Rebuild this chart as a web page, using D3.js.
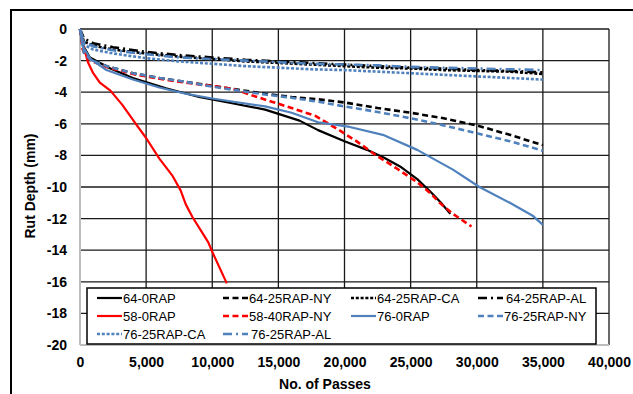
<!DOCTYPE html>
<html><head><meta charset="utf-8">
<script src="https://cdn.jsdelivr.net/npm/d3@7"></script>
<style>body{margin:0;background:#fff}svg{display:block}text{font-family:"Liberation Sans",Arial,sans-serif}</style>
</head><body><svg id="c" width="633" height="394"></svg>
<script>
const seriesNames = ["64-0RAP","64-25RAP-NY","64-25RAP-CA","64-25RAP-AL","58-0RAP","58-40RAP-NY","76-0RAP","76-25RAP-NY","76-25RAP-CA","76-25RAP-AL"];
const s64_0RAP = [[0,0],[200,-1.0],[750,-1.8],[2300,-2.5],[4000,-3.1],[6500,-3.75],[9000,-4.3],[11500,-4.7],[14000,-5.1],[16600,-5.8],[18000,-6.4],[20000,-7.1],[21700,-7.65],[23000,-8.15],[24200,-8.7],[25500,-9.5],[26500,-10.3],[27300,-11.0],[28000,-11.7]];
const s64_25NY = [[0,0],[300,-1.5],[800,-1.95],[2000,-2.35],[4000,-2.8],[6000,-3.1],[8000,-3.35],[10000,-3.6],[12000,-3.85],[14000,-4.1],[16000,-4.3],[18000,-4.45],[20000,-4.65],[22500,-5.0],[25000,-5.3],[27500,-5.65],[30000,-6.1],[32500,-6.7],[35000,-7.35]];
const s64_25CA = [[0,0],[300,-0.8],[1000,-1.05],[2500,-1.3],[5000,-1.55],[7500,-1.75],[10000,-1.9],[12500,-2.05],[15000,-2.15],[17500,-2.25],[20000,-2.35],[22500,-2.45],[25000,-2.5],[27500,-2.6],[30000,-2.65],[32500,-2.7],[35000,-2.85]];
const s64_25AL = [[0,0],[300,-0.6],[1000,-0.9],[2500,-1.15],[5000,-1.45],[7500,-1.65],[10000,-1.8],[12500,-1.95],[15000,-2.05],[17500,-2.15],[20000,-2.25],[22500,-2.35],[25000,-2.45],[27500,-2.5],[30000,-2.6],[32500,-2.65],[35000,-2.75]];
const s58_0RAP = [[0,0],[300,-1.2],[600,-2.1],[1000,-2.8],[1500,-3.4],[2300,-3.9],[3200,-4.8],[4300,-6.1],[5000,-6.9],[6000,-8.2],[7000,-9.3],[7600,-10.2],[8000,-11.1],[8500,-11.9],[9100,-12.7],[9700,-13.5],[10000,-14.1],[11100,-16.1]];
const s58_40NY = [[0,0],[200,-1.3],[800,-2.0],[2000,-2.4],[4000,-2.85],[6000,-3.15],[8000,-3.4],[10000,-3.6],[11600,-3.8],[13000,-4.2],[14500,-4.6],[16000,-5.0],[17800,-5.5],[19400,-6.3],[20900,-7.1],[22400,-8.0],[23900,-8.8],[25500,-9.7],[26500,-10.4],[27200,-11.0],[28200,-11.7],[29600,-12.5]];
const s76_0RAP = [[0,0],[200,-1.1],[800,-1.9],[2000,-2.6],[4000,-3.2],[6000,-3.7],[8000,-4.1],[10000,-4.4],[12000,-4.65],[14000,-4.9],[16000,-5.3],[18000,-5.9],[20400,-6.2],[22900,-6.7],[25500,-7.65],[28200,-8.9],[30200,-10.0],[32500,-11.0],[34200,-11.8],[35000,-12.4]];
const s76_25NY = [[0,0],[300,-1.5],[800,-1.95],[2000,-2.35],[4000,-2.8],[6000,-3.1],[8000,-3.35],[10000,-3.65],[12000,-3.9],[14000,-4.15],[16000,-4.35],[18000,-4.6],[20000,-4.9],[22500,-5.25],[25000,-5.65],[27500,-6.1],[30000,-6.6],[32500,-7.1],[35000,-7.7]];
const s76_25CA = [[0,0],[300,-1.0],[1000,-1.3],[2500,-1.55],[5000,-1.85],[7500,-2.05],[10000,-2.2],[12500,-2.35],[15000,-2.45],[17500,-2.55],[20000,-2.6],[22500,-2.7],[25000,-2.8],[27500,-2.9],[30000,-3.0],[32500,-3.1],[35000,-3.2]];
const s76_25AL = [[0,0],[300,-0.8],[1000,-1.1],[2500,-1.35],[5000,-1.6],[7500,-1.8],[10000,-1.9],[12500,-2.0],[15000,-2.1],[17500,-2.2],[20000,-2.25],[22500,-2.3],[25000,-2.4],[27500,-2.45],[30000,-2.5],[32500,-2.55],[35000,-2.6]];
const xTicks = [0,5000,10000,15000,20000,25000,30000,35000,40000];
const yTicks = [0,-2,-4,-6,-8,-10,-12,-14,-16,-18,-20];

const BLACK="#000", RED="#FF0000", BLUE="#4F81BD";
const styles = [
  {c:BLACK,d:null,w:2.2},{c:BLACK,d:"6,3.5",w:2.6},{c:BLACK,d:"3,1.8",w:2.6},{c:BLACK,d:"9,4,2,4",w:2.6},
  {c:RED,d:null,w:2.2},{c:RED,d:"6,3.5",w:2.6},{c:BLUE,d:null,w:2.2},{c:BLUE,d:"6,3.5",w:2.6},
  {c:BLUE,d:"3,1.8",w:2.6},{c:BLUE,d:"9,4,2,4",w:2.6}];
const data = [s64_0RAP,s64_25NY,s64_25CA,s64_25AL,s58_0RAP,s58_40NY,s76_0RAP,s76_25NY,s76_25CA,s76_25AL];

const svg = d3.select("#c");
svg.append("rect").attr("x",11).attr("y",10).attr("width",640).attr("height",400).attr("fill","none").attr("stroke","#000").attr("stroke-width",2);

const L=80,R=609,T=29,B=345;
const x = d3.scaleLinear().domain([0,40000]).range([L,R]);
const y = d3.scaleLinear().domain([-20,0]).range([B,T]);

// gridlines
const g = svg.append("g");
g.selectAll(".hx").data(yTicks.filter(v=>v!==-20)).join("line")
  .attr("x1",L).attr("x2",R).attr("y1",d=>y(d)).attr("y2",d=>y(d)).attr("stroke","#1a1a1a").attr("stroke-width",1.3);
g.selectAll(".vx").data(xTicks.filter(v=>v!==0)).join("line")
  .attr("y1",T).attr("y2",B).attr("x1",d=>x(d)).attr("x2",d=>x(d)).attr("stroke","#1a1a1a").attr("stroke-width",1.3);
// axes lines (gray)
svg.append("line").attr("x1",L).attr("x2",L).attr("y1",T).attr("y2",B).attr("stroke","#bdbdbd").attr("stroke-width",2);
svg.append("line").attr("x1",L).attr("x2",R).attr("y1",B).attr("y2",B).attr("stroke","#bdbdbd").attr("stroke-width",2);

// tick labels
const yAxis = d3.axisLeft(y).tickValues(yTicks).tickSize(0).tickPadding(13).tickFormat(d3.format("d"));
const ya = svg.append("g").attr("transform",`translate(${L},0)`).call(yAxis);
ya.select(".domain").remove();
ya.selectAll("text").attr("font-size",14).attr("font-weight","bold").attr("fill","#000").attr("font-family","Liberation Sans, Arial, sans-serif").text(d=>d===0?"0":"-"+Math.abs(d));
const xAxis = d3.axisBottom(x).tickValues(xTicks).tickSize(0).tickPadding(12).tickFormat(d3.format(","));
const xa = svg.append("g").attr("transform",`translate(0,${B})`).call(xAxis);
xa.select(".domain").remove();
xa.selectAll("text").attr("font-size",14).attr("font-weight","bold").attr("fill","#000").attr("font-family","Liberation Sans, Arial, sans-serif");

// series
const line = d3.line().x(d=>x(d[0])).y(d=>y(d[1]));
const clip = svg.append("defs").append("clipPath").attr("id","pc").append("rect").attr("x",L-3).attr("y",T-3).attr("width",R-L+6).attr("height",B-T+6);
const sg = svg.append("g").attr("clip-path","url(#pc)");
data.forEach((s,i)=>{
  sg.append("path").attr("d",line(s)).attr("fill","none").attr("stroke",styles[i].c)
    .attr("stroke-width",styles[i].w).attr("stroke-dasharray",styles[i].d).attr("stroke-linejoin","round");
});

// axis titles
svg.append("text").attr("x",325).attr("y",389).attr("text-anchor","middle").attr("font-size",14).attr("font-weight","bold").text("No. of Passes");
svg.append("text").attr("transform","translate(35,186) rotate(-90)").attr("text-anchor","middle").attr("font-size",14).attr("font-weight","bold").text("Rut Depth (mm)");

// legend
const lg = svg.append("g");
lg.append("rect").attr("x",87).attr("y",288).attr("width",509).attr("height",56).attr("fill","#fff").attr("stroke","#000").attr("stroke-width",1.5);
const colX=[97,223,351,478], rowY=[298,316,334];
seriesNames.forEach((n,i)=>{
  const cx=colX[i%4], cy=rowY[Math.floor(i/4)];
  lg.append("line").attr("x1",cx).attr("x2",cx+25).attr("y1",cy).attr("y2",cy).attr("stroke",styles[i].c).attr("stroke-width",styles[i].w).attr("stroke-dasharray",styles[i].d);
  lg.append("text").attr("x",cx+(styles[i].d==="9,4,2,4"?28:26)).attr("y",cy+4.5).attr("font-size",13).attr("fill","#000").text(n);
});
</script></body></html>
